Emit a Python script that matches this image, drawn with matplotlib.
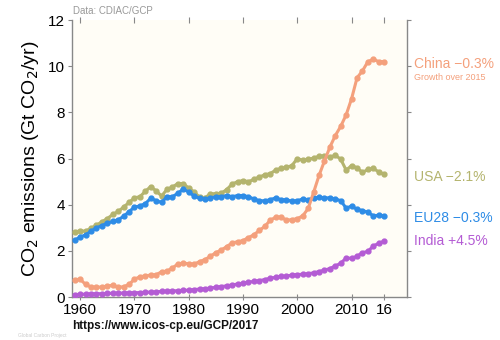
import matplotlib
matplotlib.use("Agg")
import matplotlib.pyplot as plt
import numpy as np

plt.rcParams['font.family'] = ['Liberation Sans', 'DejaVu Sans']

years = list(range(1959, 2017))

china = [0.75, 0.78, 0.55, 0.44, 0.43, 0.44, 0.48, 0.52, 0.43, 0.45, 0.55,
         0.78, 0.88, 0.92, 0.96, 0.97, 1.10, 1.13, 1.26, 1.44, 1.47,
         1.45, 1.43, 1.54, 1.63, 1.77, 1.93, 2.04, 2.19, 2.35, 2.40,
         2.45, 2.58, 2.70, 2.89, 3.06, 3.33, 3.46, 3.47, 3.33, 3.36,
         3.40, 3.52, 3.84, 4.54, 5.27, 5.90, 6.50, 7.00, 7.40, 7.90,
         8.60, 9.50, 9.80, 10.20, 10.30, 10.20, 10.20]

usa = [2.82, 2.87, 2.86, 2.98, 3.12, 3.26, 3.40, 3.58, 3.71, 3.90, 4.10,
       4.30, 4.35, 4.58, 4.79, 4.60, 4.38, 4.67, 4.77, 4.92, 4.92,
       4.72, 4.55, 4.33, 4.30, 4.48, 4.48, 4.50, 4.66, 4.90, 5.00,
       5.05, 5.00, 5.10, 5.20, 5.30, 5.35, 5.50, 5.58, 5.62, 5.70,
       6.00, 5.93, 5.97, 6.02, 6.10, 6.12, 6.05, 6.15, 5.97, 5.50,
       5.70, 5.60, 5.40, 5.53, 5.58, 5.42, 5.32]

eu28 = [2.47, 2.60, 2.70, 2.85, 3.00, 3.10, 3.20, 3.28, 3.35, 3.50, 3.70,
        3.90, 3.95, 4.05, 4.28, 4.18, 4.10, 4.35, 4.35, 4.50, 4.68,
        4.55, 4.38, 4.28, 4.25, 4.30, 4.35, 4.35, 4.40, 4.35, 4.40,
        4.40, 4.35, 4.25, 4.18, 4.17, 4.22, 4.30, 4.22, 4.22, 4.15,
        4.18, 4.25, 4.22, 4.30, 4.32, 4.30, 4.30, 4.25, 4.18, 3.85,
        3.95, 3.80, 3.75, 3.68, 3.52, 3.55, 3.52]

india = [0.11, 0.12, 0.13, 0.14, 0.15, 0.15, 0.16, 0.17, 0.17, 0.18, 0.19,
         0.19, 0.20, 0.21, 0.22, 0.23, 0.25, 0.26, 0.27, 0.28, 0.30,
         0.30, 0.33, 0.35, 0.37, 0.39, 0.43, 0.46, 0.49, 0.53, 0.57,
         0.60, 0.65, 0.68, 0.72, 0.76, 0.82, 0.86, 0.90, 0.91, 0.96,
         0.98, 0.99, 1.02, 1.05, 1.11, 1.17, 1.24, 1.35, 1.47, 1.70,
         1.68, 1.77, 1.93, 1.98, 2.22, 2.33, 2.43]

series = [
    ("China", china, "#F4A07C", "China \u22120.3%"),
    ("USA", usa, "#B4B46E", "USA \u22122.1%"),
    ("EU28", eu28, "#2E8CE6", "EU28 \u22120.3%"),
    ("India", india, "#B45CD4", "India +4.5%"),
]

xticks = [1960, 1970, 1980, 1990, 2000, 2010, 2016]
xticklabels = ["1960", "1970", "1980", "1990", "2000", "2010", "16"]
yticks = [0, 2, 4, 6, 8, 10, 12]

fig = plt.figure(figsize=(5, 3.4), dpi=100)
ax = fig.add_axes([0.144, 0.126, 0.670, 0.815])
ax.set_facecolor("#FFFDF6")

order = ["USA", "EU28", "China", "India"]
smap = {s[0]: s for s in series}
for name in order:
    _, vals, col, _ = smap[name]
    ax.plot(years, vals, color=col, lw=2.2, marker='o', ms=3.5, mec=col, mfc=col, zorder=3)

ax.set_xlim(1958.5, 2020.2)
ax.set_ylim(0, 12)
ax.set_xticks(xticks)
ax.set_xticklabels(xticklabels, fontsize=11)
ax.set_yticks(yticks)
ax.set_yticklabels([str(v) for v in yticks], fontsize=11)

for sp in ['left', 'bottom', 'right']:
    ax.spines[sp].set_color('#888888')
    ax.spines[sp].set_linewidth(1.0)
ax.spines['top'].set_visible(False)
ax.tick_params(axis='x', which='both', top=True, bottom=True, direction='inout',
               length=5, color='#888888', pad=2)
ax.tick_params(axis='y', which='both', left=True, right=True, direction='out',
               length=3, color='#888888', pad=2)

ax.set_ylabel("CO$_2$ emissions (Gt CO$_2$/yr)", fontsize=14, labelpad=5)

# right labels
lab_y = {"China": 10.1, "USA": 5.2, "EU28": 3.43, "India": 2.43}
for name, vals, col, lab in series:
    ax.text(1.02, lab_y[name], lab, transform=ax.get_yaxis_transform(),
            color=col, fontsize=10, va='center', ha='left', clip_on=False)
ax.text(1.02, 9.5, "Growth over 2015", transform=ax.get_yaxis_transform(),
        color="#F4A07C", fontsize=6.5, va='center', ha='left')

fig.text(0.146, 0.968, "Data: CDIAC/GCP", fontsize=7, color='#999999', va='center', ha='left')
fig.text(0.144, 0.042, "https://www.icos-cp.eu/GCP/2017", fontsize=8.5, color='#111111',
         fontweight='bold', va='center', ha='left')
fig.text(0.035, 0.005, "Global Carbon Project", fontsize=3.5, color='#cccccc', va='bottom', ha='left')

fig.savefig("out.png", dpi=100, facecolor='white')
